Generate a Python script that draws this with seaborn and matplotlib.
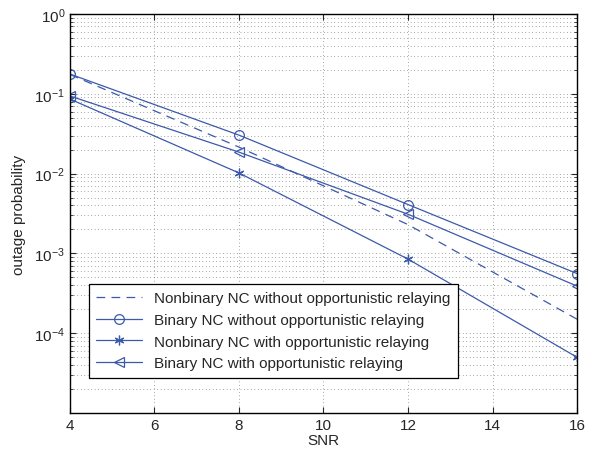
import numpy as np
import pandas as pd
import matplotlib
matplotlib.use('Agg')
import matplotlib.pyplot as plt
import seaborn as sns
from matplotlib.ticker import LogLocator, NullFormatter

# values
snr = [4, 8, 12, 16]
nonbinary_no_opp = [0.175, 0.0215, 0.0023, 0.00015]
binary_no_opp = [0.177, 0.0304, 0.0041, 0.00056]
nonbinary_opp = [0.086, 0.0102, 0.00085, 0.00005]
binary_opp = [0.094, 0.0186, 0.0031, 0.00039]

labels = ['Nonbinary NC without opportunistic relaying',
          'Binary NC without opportunistic relaying',
          'Nonbinary NC with opportunistic relaying',
          'Binary NC with opportunistic relaying']

sns.set_style('ticks')
plt.rcParams['font.family'] = ['Liberation Sans', 'DejaVu Sans']
plt.rcParams['font.size'] = 11

blue = '#3c5aaa'

fig = plt.figure(figsize=(5.9, 4.56), dpi=100)
ax = fig.add_axes([0.1186, 0.092, 0.8594, 0.875])

series = [nonbinary_no_opp, binary_no_opp, nonbinary_opp, binary_opp]
markers = [None, 'o', (6, 2, 0), '<']

for vals, lab, mk in zip(series, labels, markers):
    df = pd.DataFrame({'SNR': snr, 'p': vals})
    sns.lineplot(data=df, x='SNR', y='p', ax=ax, color=blue, linewidth=0.9,
                 marker=mk, markersize=7, markerfacecolor='none',
                 markeredgecolor=blue, markeredgewidth=0.9, label=lab)

# dashed style for the first curve
ax.lines[0].set_linestyle((0, (7, 5)))

ax.set_yscale('log')
ax.set_xlim(4, 16)
ax.set_ylim(1e-5, 1)
ax.set_xticks(range(4, 17, 2))
ax.set_yticks([1e0, 1e-1, 1e-2, 1e-3, 1e-4])
ax.yaxis.set_minor_locator(LogLocator(base=10, subs=np.arange(2, 10)))
ax.yaxis.set_minor_formatter(NullFormatter())
ax.tick_params(direction='in', which='both', top=True, right=True, labelsize=11)
ax.tick_params(which='major', length=4)
ax.tick_params(which='minor', length=2)
ax.grid(True, which='major', color='#555555', linestyle=(0, (1, 4)), linewidth=0.5)
ax.grid(True, which='minor', axis='y', color='#555555', linestyle=(0, (1, 4)), linewidth=0.5)
for s in ax.spines.values():
    s.set_linewidth(1.0)
    s.set_color('k')

ax.set_xlabel('SNR', labelpad=1)
ax.set_ylabel('outage probability', labelpad=6)

leg = ax.legend(loc='lower left', bbox_to_anchor=(0.037, 0.088), borderaxespad=0,
                frameon=True, fancybox=False, edgecolor='k', framealpha=1,
                handlelength=3.0, fontsize=11, labelspacing=0.5, borderpad=0.5)
leg.get_frame().set_linewidth(0.9)

fig.savefig('out.png', dpi=100)
